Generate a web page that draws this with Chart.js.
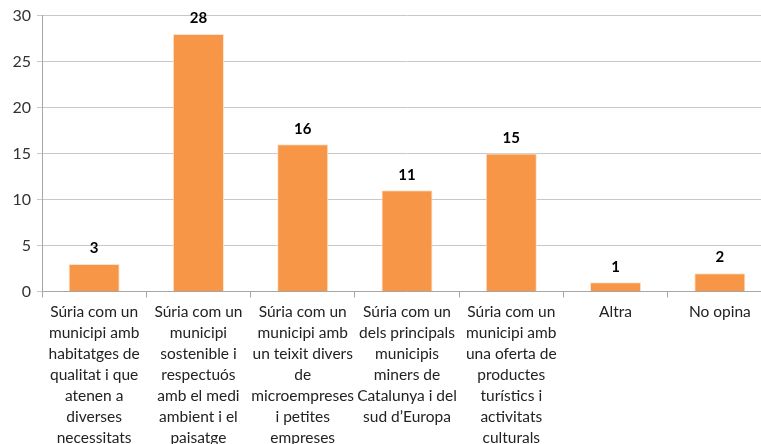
<!DOCTYPE html>
<html>
<head>
<meta charset="utf-8">
<script src="https://cdn.jsdelivr.net/npm/chart.js@4"></script>
<style>
  html, body { margin: 0; padding: 0; background: #fff; overflow: hidden; }
  #wrap { width: 776px; height: 452px; }
</style>
</head>
<body>
<div id="wrap"><canvas id="chart"></canvas></div>
<script>
const categories = [
  ['Súria com un', 'municipi amb', 'habitatges de', 'qualitat i que', 'atenen a', 'diverses', 'necessitats'],
  ['Súria com un', 'municipi', 'sostenible i', 'respectuós', 'amb el medi', 'ambient i el', 'paisatge'],
  ['Súria com un', 'municipi amb', 'un teixit divers', 'de', 'microempreses', 'i petites', 'empreses'],
  ['Súria com un', 'dels principals', 'municipis', 'miners de', 'Catalunya i del', 'sud d’Europa'],
  ['Súria com un', 'municipi amb', 'una oferta de', 'productes', 'turístics i', 'activitats', 'culturals'],
  ['Altra'],
  ['No opina'],
];
const values = [3, 28, 16, 11, 15, 1, 2];
const yTicks = [0, 5, 10, 15, 20, 25, 30];

const FONT = 'Lato, "Open Sans", sans-serif';

const valueLabels = {
  id: 'valueLabels',
  afterDatasetsDraw(chart) {
    const { ctx } = chart;
    const meta = chart.getDatasetMeta(0);
    ctx.save();
    ctx.font = `bold 15px ${FONT}`;
    ctx.fillStyle = '#000';
    ctx.textAlign = 'center';
    ctx.textBaseline = 'bottom';
    meta.data.forEach((bar, i) => {
      ctx.fillText(values[i], bar.x, bar.y - 8);
    });
    ctx.restore();
  },
};

new Chart(document.getElementById('chart'), {
  type: 'bar',
  data: {
    labels: categories,
    datasets: [{
      data: values,
      backgroundColor: '#F79646',
      borderColor: '#FBE3D0',
      borderWidth: 1,
      barPercentage: 0.49,
      categoryPercentage: 1,
    }],
  },
  options: {
    responsive: true,
    maintainAspectRatio: false,
    animation: false,
    layout: { padding: { top: 12, right: 4, left: 0, bottom: 0 } },
    plugins: { legend: { display: false }, tooltip: { enabled: false } },
    scales: {
      x: {
        grid: { drawOnChartArea: false, color: '#A6A6A6', tickLength: 6, offset: true },
        border: { color: '#A6A6A6' },
        ticks: {
          color: '#222',
          font: { family: FONT, size: 15.5, lineHeight: 1.35 },
          maxRotation: 0,
          autoSkip: false,
          padding: 4,
        },
      },
      y: {
        min: 0,
        max: 30,
        afterBuildTicks: (scale) => { scale.ticks = yTicks.map((v) => ({ value: v })); },
        afterFit: (scale) => { scale.width = 42; },
        grid: { color: '#C8C8C8', tickLength: 5 },
        border: { color: '#A6A6A6' },
        ticks: {
          color: '#333',
          font: { family: FONT, size: 16 },
          padding: 6,
        },
      },
    },
  },
  plugins: [valueLabels],
});
</script>
</body>
</html>
